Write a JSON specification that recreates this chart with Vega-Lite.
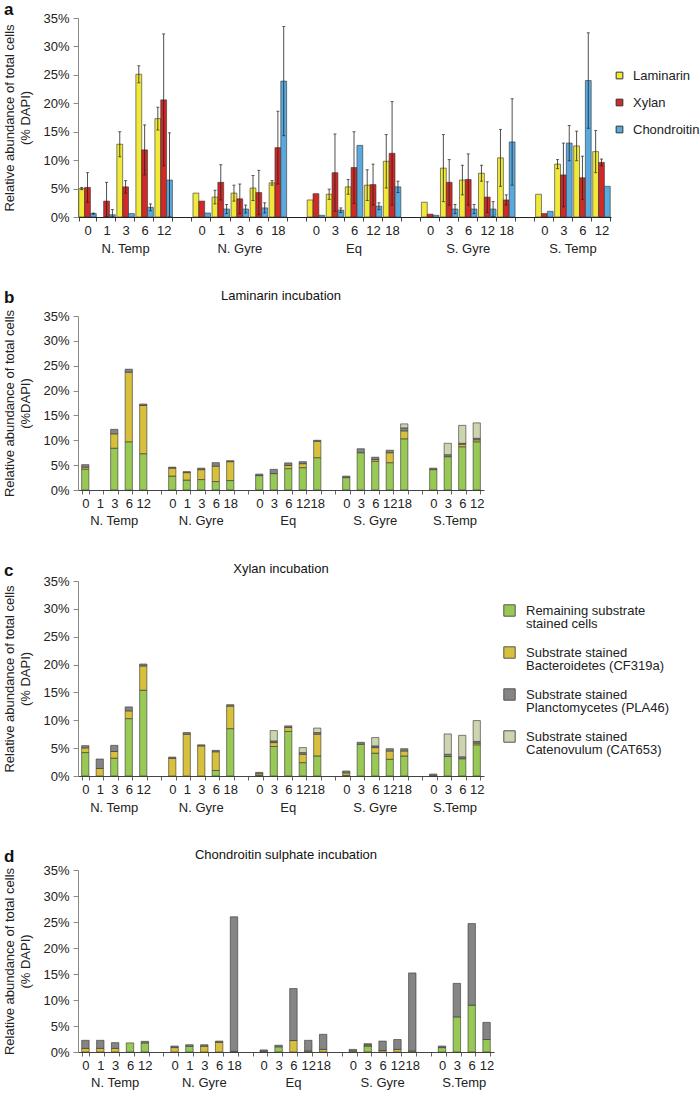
{
  "$schema": "https://vega.github.io/schema/vega-lite/v6.json",
  "padding": {"left": 3, "top": 1, "right": 2, "bottom": 2},
  "spacing": 33,
  "resolve": {"scale": {"color": "independent"}},
  "datasets": {
    "a": [
      {"key":"NT|0","substrate":"Laminarin","value":5.0,"lo":4.8,"hi":5.2},
      {"key":"NT|0","substrate":"Xylan","value":5.2,"lo":2.6,"hi":7.8},
      {"key":"NT|0","substrate":"Chondroitin","value":0.6,"lo":0.5,"hi":0.7},
      {"key":"NT|1","substrate":"Xylan","value":2.8,"lo":0,"hi":6.1},
      {"key":"NT|1","substrate":"Chondroitin","value":0.4,"lo":0,"hi":1.3},
      {"key":"NT|3","substrate":"Laminarin","value":12.8,"lo":10.6,"hi":15.0},
      {"key":"NT|3","substrate":"Xylan","value":5.3,"lo":4.2,"hi":6.4},
      {"key":"NT|3","substrate":"Chondroitin","value":0.6,"lo":null,"hi":null},
      {"key":"NT|6","substrate":"Laminarin","value":25.1,"lo":23.6,"hi":26.6},
      {"key":"NT|6","substrate":"Xylan","value":11.8,"lo":7.4,"hi":16.2},
      {"key":"NT|6","substrate":"Chondroitin","value":1.7,"lo":1.1,"hi":2.3},
      {"key":"NT|12","substrate":"Laminarin","value":17.3,"lo":15.3,"hi":19.3},
      {"key":"NT|12","substrate":"Xylan","value":20.6,"lo":9.0,"hi":32.2},
      {"key":"NT|12","substrate":"Chondroitin","value":6.5,"lo":0,"hi":14.8},
      {"key":"NG|0","substrate":"Laminarin","value":4.2,"lo":null,"hi":null},
      {"key":"NG|0","substrate":"Xylan","value":2.8,"lo":null,"hi":null},
      {"key":"NG|0","substrate":"Chondroitin","value":0.7,"lo":null,"hi":null},
      {"key":"NG|1","substrate":"Laminarin","value":3.5,"lo":2.3,"hi":4.7},
      {"key":"NG|1","substrate":"Xylan","value":6.1,"lo":3.0,"hi":9.2},
      {"key":"NG|1","substrate":"Chondroitin","value":1.4,"lo":0.6,"hi":2.2},
      {"key":"NG|3","substrate":"Laminarin","value":4.2,"lo":2.8,"hi":5.6},
      {"key":"NG|3","substrate":"Xylan","value":3.2,"lo":0.6,"hi":5.8},
      {"key":"NG|3","substrate":"Chondroitin","value":1.4,"lo":0.7,"hi":2.1},
      {"key":"NG|6","substrate":"Laminarin","value":5.1,"lo":2.9,"hi":7.3},
      {"key":"NG|6","substrate":"Xylan","value":4.3,"lo":0.4,"hi":8.2},
      {"key":"NG|6","substrate":"Chondroitin","value":1.6,"lo":0.7,"hi":2.5},
      {"key":"NG|18","substrate":"Laminarin","value":6.0,"lo":5.6,"hi":6.4},
      {"key":"NG|18","substrate":"Xylan","value":12.2,"lo":5.8,"hi":18.6},
      {"key":"NG|18","substrate":"Chondroitin","value":23.9,"lo":14.3,"hi":33.5},
      {"key":"EQ|0","substrate":"Laminarin","value":3.0,"lo":null,"hi":null},
      {"key":"EQ|0","substrate":"Xylan","value":4.1,"lo":null,"hi":null},
      {"key":"EQ|0","substrate":"Chondroitin","value":0.3,"lo":null,"hi":null},
      {"key":"EQ|3","substrate":"Laminarin","value":4.0,"lo":3.1,"hi":4.9},
      {"key":"EQ|3","substrate":"Xylan","value":7.8,"lo":1.0,"hi":14.6},
      {"key":"EQ|3","substrate":"Chondroitin","value":1.2,"lo":0.8,"hi":1.6},
      {"key":"EQ|6","substrate":"Laminarin","value":5.3,"lo":4.0,"hi":6.6},
      {"key":"EQ|6","substrate":"Xylan","value":8.7,"lo":2.4,"hi":15.0},
      {"key":"EQ|6","substrate":"Chondroitin","value":12.6,"lo":null,"hi":null},
      {"key":"EQ|12","substrate":"Laminarin","value":5.6,"lo":2.9,"hi":8.3},
      {"key":"EQ|12","substrate":"Xylan","value":5.7,"lo":2.1,"hi":9.3},
      {"key":"EQ|12","substrate":"Chondroitin","value":1.9,"lo":1.3,"hi":2.5},
      {"key":"EQ|18","substrate":"Laminarin","value":9.8,"lo":5.1,"hi":14.5},
      {"key":"EQ|18","substrate":"Xylan","value":11.2,"lo":2.1,"hi":20.3},
      {"key":"EQ|18","substrate":"Chondroitin","value":5.3,"lo":4.3,"hi":6.3},
      {"key":"SG|0","substrate":"Laminarin","value":2.6,"lo":null,"hi":null},
      {"key":"SG|0","substrate":"Xylan","value":0.5,"lo":null,"hi":null},
      {"key":"SG|0","substrate":"Chondroitin","value":0.3,"lo":null,"hi":null},
      {"key":"SG|3","substrate":"Laminarin","value":8.6,"lo":2.7,"hi":14.5},
      {"key":"SG|3","substrate":"Xylan","value":6.1,"lo":2.1,"hi":10.1},
      {"key":"SG|3","substrate":"Chondroitin","value":1.4,"lo":0.6,"hi":2.2},
      {"key":"SG|6","substrate":"Laminarin","value":6.5,"lo":3.9,"hi":9.1},
      {"key":"SG|6","substrate":"Xylan","value":6.6,"lo":2.1,"hi":11.1},
      {"key":"SG|6","substrate":"Chondroitin","value":1.4,"lo":0.6,"hi":2.2},
      {"key":"SG|12","substrate":"Laminarin","value":7.7,"lo":6.3,"hi":9.1},
      {"key":"SG|12","substrate":"Xylan","value":3.5,"lo":0.8,"hi":6.2},
      {"key":"SG|12","substrate":"Chondroitin","value":1.4,"lo":0.1,"hi":2.7},
      {"key":"SG|18","substrate":"Laminarin","value":10.4,"lo":5.4,"hi":15.4},
      {"key":"SG|18","substrate":"Xylan","value":3.0,"lo":2.1,"hi":3.9},
      {"key":"SG|18","substrate":"Chondroitin","value":13.2,"lo":5.6,"hi":20.8},
      {"key":"ST|0","substrate":"Laminarin","value":4.0,"lo":null,"hi":null},
      {"key":"ST|0","substrate":"Xylan","value":0.6,"lo":null,"hi":null},
      {"key":"ST|0","substrate":"Chondroitin","value":1.0,"lo":null,"hi":null},
      {"key":"ST|3","substrate":"Laminarin","value":9.3,"lo":8.5,"hi":10.1},
      {"key":"ST|3","substrate":"Xylan","value":7.4,"lo":1.8,"hi":13.0},
      {"key":"ST|3","substrate":"Chondroitin","value":13.0,"lo":9.9,"hi":16.1},
      {"key":"ST|6","substrate":"Laminarin","value":12.5,"lo":9.9,"hi":15.1},
      {"key":"ST|6","substrate":"Xylan","value":6.9,"lo":3.1,"hi":10.7},
      {"key":"ST|6","substrate":"Chondroitin","value":24.0,"lo":15.6,"hi":32.4},
      {"key":"ST|12","substrate":"Laminarin","value":11.5,"lo":7.8,"hi":15.2},
      {"key":"ST|12","substrate":"Xylan","value":9.6,"lo":9.0,"hi":10.2},
      {"key":"ST|12","substrate":"Chondroitin","value":5.4,"lo":null,"hi":null}
    ],
    "b": [
      {"key":"NT|0","probe":"Remaining","value":4.2},{"key":"NT|0","probe":"CF319a","value":0.4},{"key":"NT|0","probe":"PLA46","value":0.5},
      {"key":"NT|3","probe":"Remaining","value":8.4},{"key":"NT|3","probe":"CF319a","value":2.9},{"key":"NT|3","probe":"PLA46","value":0.9},
      {"key":"NT|6","probe":"Remaining","value":9.7},{"key":"NT|6","probe":"CF319a","value":14.0},{"key":"NT|6","probe":"PLA46","value":0.6},
      {"key":"NT|12","probe":"Remaining","value":7.3},{"key":"NT|12","probe":"CF319a","value":9.7},{"key":"NT|12","probe":"PLA46","value":0.3},
      {"key":"NG|0","probe":"Remaining","value":2.8},{"key":"NG|0","probe":"CF319a","value":1.6},{"key":"NG|0","probe":"PLA46","value":0.2},
      {"key":"NG|1","probe":"Remaining","value":2.0},{"key":"NG|1","probe":"CF319a","value":1.5},{"key":"NG|1","probe":"PLA46","value":0.2},
      {"key":"NG|3","probe":"Remaining","value":2.1},{"key":"NG|3","probe":"CF319a","value":2.0},{"key":"NG|3","probe":"PLA46","value":0.3},
      {"key":"NG|6","probe":"Remaining","value":1.7},{"key":"NG|6","probe":"CF319a","value":3.1},{"key":"NG|6","probe":"PLA46","value":0.7},
      {"key":"NG|18","probe":"Remaining","value":1.9},{"key":"NG|18","probe":"CF319a","value":3.8},{"key":"NG|18","probe":"PLA46","value":0.2},
      {"key":"EQ|0","probe":"Remaining","value":2.9},{"key":"EQ|0","probe":"PLA46","value":0.3},
      {"key":"EQ|3","probe":"Remaining","value":3.3},{"key":"EQ|3","probe":"PLA46","value":0.85},
      {"key":"EQ|6","probe":"Remaining","value":4.3},{"key":"EQ|6","probe":"CF319a","value":0.65},{"key":"EQ|6","probe":"PLA46","value":0.5},
      {"key":"EQ|12","probe":"Remaining","value":4.5},{"key":"EQ|12","probe":"CF319a","value":0.8},{"key":"EQ|12","probe":"PLA46","value":0.4},
      {"key":"EQ|18","probe":"Remaining","value":6.5},{"key":"EQ|18","probe":"CF319a","value":3.3},{"key":"EQ|18","probe":"PLA46","value":0.2},
      {"key":"SG|0","probe":"Remaining","value":2.5},{"key":"SG|0","probe":"PLA46","value":0.3},
      {"key":"SG|3","probe":"Remaining","value":7.5},{"key":"SG|3","probe":"PLA46","value":0.8},
      {"key":"SG|6","probe":"Remaining","value":5.8},{"key":"SG|6","probe":"CF319a","value":0.35},{"key":"SG|6","probe":"PLA46","value":0.45},
      {"key":"SG|12","probe":"Remaining","value":5.5},{"key":"SG|12","probe":"CF319a","value":2.0},{"key":"SG|12","probe":"PLA46","value":0.5},
      {"key":"SG|18","probe":"Remaining","value":10.3},{"key":"SG|18","probe":"CF319a","value":1.6},{"key":"SG|18","probe":"PLA46","value":0.6},{"key":"SG|18","probe":"CAT653","value":0.8},
      {"key":"ST|0","probe":"Remaining","value":4.1},{"key":"ST|0","probe":"PLA46","value":0.3},
      {"key":"ST|3","probe":"Remaining","value":6.7},{"key":"ST|3","probe":"PLA46","value":0.4},{"key":"ST|3","probe":"CAT653","value":2.3},
      {"key":"ST|6","probe":"Remaining","value":8.7},{"key":"ST|6","probe":"CF319a","value":0.5},{"key":"ST|6","probe":"PLA46","value":0.2},{"key":"ST|6","probe":"CAT653","value":3.6},
      {"key":"ST|12","probe":"Remaining","value":9.7},{"key":"ST|12","probe":"CF319a","value":0.4},{"key":"ST|12","probe":"PLA46","value":0.3},{"key":"ST|12","probe":"CAT653","value":3.1}
    ],
    "c": [
      {"key":"NT|0","probe":"Remaining","value":4.2},{"key":"NT|0","probe":"CF319a","value":0.85},{"key":"NT|0","probe":"PLA46","value":0.4},
      {"key":"NT|1","probe":"CF319a","value":1.35},{"key":"NT|1","probe":"PLA46","value":1.7},
      {"key":"NT|3","probe":"Remaining","value":3.2},{"key":"NT|3","probe":"CF319a","value":1.2},{"key":"NT|3","probe":"PLA46","value":1.1},
      {"key":"NT|6","probe":"Remaining","value":10.3},{"key":"NT|6","probe":"CF319a","value":1.4},{"key":"NT|6","probe":"PLA46","value":0.7},
      {"key":"NT|12","probe":"Remaining","value":15.4},{"key":"NT|12","probe":"CF319a","value":4.35},{"key":"NT|12","probe":"PLA46","value":0.35},
      {"key":"NG|0","probe":"CF319a","value":3.15},{"key":"NG|0","probe":"PLA46","value":0.25},
      {"key":"NG|1","probe":"CF319a","value":7.5},{"key":"NG|1","probe":"PLA46","value":0.3},
      {"key":"NG|3","probe":"CF319a","value":5.4},{"key":"NG|3","probe":"PLA46","value":0.2},
      {"key":"NG|6","probe":"Remaining","value":1.0},{"key":"NG|6","probe":"CF319a","value":3.35},{"key":"NG|6","probe":"PLA46","value":0.25},
      {"key":"NG|18","probe":"Remaining","value":8.5},{"key":"NG|18","probe":"CF319a","value":4.05},{"key":"NG|18","probe":"PLA46","value":0.25},
      {"key":"EQ|0","probe":"Remaining","value":0.1},{"key":"EQ|0","probe":"CF319a","value":0.3},{"key":"EQ|0","probe":"PLA46","value":0.25},
      {"key":"EQ|3","probe":"Remaining","value":5.3},{"key":"EQ|3","probe":"CF319a","value":0.7},{"key":"EQ|3","probe":"PLA46","value":0.3},{"key":"EQ|3","probe":"CAT653","value":1.85},
      {"key":"EQ|6","probe":"Remaining","value":8.0},{"key":"EQ|6","probe":"CF319a","value":0.7},{"key":"EQ|6","probe":"PLA46","value":0.3},
      {"key":"EQ|12","probe":"Remaining","value":2.4},{"key":"EQ|12","probe":"CF319a","value":1.5},{"key":"EQ|12","probe":"PLA46","value":0.3},{"key":"EQ|12","probe":"CAT653","value":0.9},
      {"key":"EQ|18","probe":"Remaining","value":3.6},{"key":"EQ|18","probe":"CF319a","value":3.9},{"key":"EQ|18","probe":"PLA46","value":0.3},{"key":"EQ|18","probe":"CAT653","value":0.8},
      {"key":"SG|0","probe":"Remaining","value":0.1},{"key":"SG|0","probe":"CF319a","value":0.45},{"key":"SG|0","probe":"PLA46","value":0.35},
      {"key":"SG|3","probe":"Remaining","value":5.7},{"key":"SG|3","probe":"PLA46","value":0.35},
      {"key":"SG|6","probe":"Remaining","value":4.1},{"key":"SG|6","probe":"CF319a","value":1.0},{"key":"SG|6","probe":"PLA46","value":0.3},{"key":"SG|6","probe":"CAT653","value":1.5},
      {"key":"SG|12","probe":"Remaining","value":3.0},{"key":"SG|12","probe":"CF319a","value":1.5},{"key":"SG|12","probe":"PLA46","value":0.4},
      {"key":"SG|18","probe":"Remaining","value":3.6},{"key":"SG|18","probe":"CF319a","value":0.9},{"key":"SG|18","probe":"PLA46","value":0.4},
      {"key":"ST|0","probe":"Remaining","value":0.05},{"key":"ST|0","probe":"PLA46","value":0.3},
      {"key":"ST|3","probe":"Remaining","value":3.5},{"key":"ST|3","probe":"PLA46","value":0.4},{"key":"ST|3","probe":"CAT653","value":3.65},
      {"key":"ST|6","probe":"Remaining","value":3.1},{"key":"ST|6","probe":"PLA46","value":0.35},{"key":"ST|6","probe":"CAT653","value":3.85},
      {"key":"ST|12","probe":"Remaining","value":5.6},{"key":"ST|12","probe":"CF319a","value":0.3},{"key":"ST|12","probe":"PLA46","value":0.3},{"key":"ST|12","probe":"CAT653","value":3.75}
    ],
    "d": [
      {"key":"NT|0","probe":"CF319a","value":0.7},{"key":"NT|0","probe":"PLA46","value":1.55},
      {"key":"NT|1","probe":"CF319a","value":0.7},{"key":"NT|1","probe":"PLA46","value":1.55},
      {"key":"NT|3","probe":"CF319a","value":0.7},{"key":"NT|3","probe":"PLA46","value":1.1},
      {"key":"NT|6","probe":"Remaining","value":1.75},
      {"key":"NT|12","probe":"Remaining","value":1.75},{"key":"NT|12","probe":"PLA46","value":0.3},
      {"key":"NG|0","probe":"CF319a","value":0.85},{"key":"NG|0","probe":"PLA46","value":0.3},
      {"key":"NG|1","probe":"Remaining","value":1.1},{"key":"NG|1","probe":"PLA46","value":0.3},
      {"key":"NG|3","probe":"CF319a","value":1.1},{"key":"NG|3","probe":"PLA46","value":0.3},
      {"key":"NG|6","probe":"CF319a","value":1.85},{"key":"NG|6","probe":"PLA46","value":0.25},
      {"key":"NG|18","probe":"CF319a","value":0.1},{"key":"NG|18","probe":"PLA46","value":25.9},
      {"key":"EQ|0","probe":"CF319a","value":0.15},{"key":"EQ|0","probe":"PLA46","value":0.25},
      {"key":"EQ|3","probe":"Remaining","value":1.0},{"key":"EQ|3","probe":"PLA46","value":0.3},
      {"key":"EQ|6","probe":"CF319a","value":2.2},{"key":"EQ|6","probe":"PLA46","value":10.0},
      {"key":"EQ|12","probe":"CF319a","value":0.2},{"key":"EQ|12","probe":"PLA46","value":2.05},
      {"key":"EQ|18","probe":"CF319a","value":0.5},{"key":"EQ|18","probe":"PLA46","value":2.9},
      {"key":"SG|0","probe":"CF319a","value":0.2},{"key":"SG|0","probe":"PLA46","value":0.3},
      {"key":"SG|3","probe":"Remaining","value":1.15},{"key":"SG|3","probe":"CF319a","value":0.2},{"key":"SG|3","probe":"PLA46","value":0.25},
      {"key":"SG|6","probe":"CF319a","value":0.3},{"key":"SG|6","probe":"PLA46","value":1.8},
      {"key":"SG|12","probe":"CF319a","value":0.5},{"key":"SG|12","probe":"PLA46","value":1.9},
      {"key":"SG|18","probe":"CF319a","value":0.2},{"key":"SG|18","probe":"PLA46","value":15.0},
      {"key":"ST|0","probe":"Remaining","value":0.85},{"key":"ST|0","probe":"PLA46","value":0.3},
      {"key":"ST|3","probe":"Remaining","value":6.75},{"key":"ST|3","probe":"PLA46","value":6.45},
      {"key":"ST|6","probe":"Remaining","value":9.0},{"key":"ST|6","probe":"PLA46","value":15.7},
      {"key":"ST|12","probe":"Remaining","value":2.4},{"key":"ST|12","probe":"PLA46","value":3.3}
    ],
    "groupsA": [
      {"key":"NT|3","label":"N. Temp"},{"key":"NG|3","label":"N. Gyre"},{"key":"EQ|6","label":"Eq"},{"key":"SG|6","label":"S. Gyre"},{"key":"ST|3","label":"S. Temp"}
    ],
    "groupsB": [
      {"key":"NT|3","label":"N. Temp"},{"key":"NG|3","label":"N. Gyre"},{"key":"EQ|6","label":"Eq"},{"key":"SG|6","label":"S. Gyre"},{"key":"ST|3","label":"S.Temp"}
    ]
  },
  "vconcat": [
    {
      "title": {"text": "a", "anchor": "start", "frame": "bounds", "fontSize": 17, "fontWeight": "bold", "offset": -7},
      "vconcat": [
        {
          "width": 533, "height": 199,
          "data": {"name": "a"},
          "encoding": {
            "x": {"field": "key", "type": "nominal",
              "scale": {"domain": ["NT|0","NT|1","NT|3","NT|6","NT|12","gap1|","NG|0","NG|1","NG|3","NG|6","NG|18","gap2|","EQ|0","EQ|3","EQ|6","EQ|12","EQ|18","gap3|","SG|0","SG|3","SG|6","SG|12","SG|18","gap4|","ST|0","ST|3","ST|6","ST|12"], "paddingInner": 0.08, "paddingOuter": 0.04},
              "axis": {"title": null, "labelExpr": "split(datum.value, '|')[1]", "labelAngle": 0, "tickBand": "extent", "tickSize": 4, "labelPadding": 3, "domainColor": "#222", "tickColor": "#444"}}
          },
          "layer": [
            {
              "mark": {"type": "bar", "stroke": "#333", "strokeWidth": 0.6},
              "encoding": {
                "xOffset": {"field": "substrate", "type": "nominal", "scale": {"domain": ["Laminarin","Xylan","Chondroitin"], "paddingInner": 0}},
                "y": {"field": "value", "type": "quantitative", "scale": {"domain": [0, 35], "nice": false},
                  "axis": {"title": ["Relative abundance of total cells", "(% DAPI)"], "values": [0,5,10,15,20,25,30,35], "labelOverlap": false, "labelExpr": "datum.value + '%'", "tickSize": 5, "labelPadding": 4, "domainColor": "#888", "tickColor": "#888", "titlePadding": 10, "titleLineHeight": 16}},
                "color": {"field": "substrate", "type": "nominal",
                  "scale": {"domain": ["Laminarin","Xylan","Chondroitin"], "range": ["#f0e93a","#cf2a27","#5aa9de"]},
                  "legend": {"title": null, "orient": "none", "legendX": 535, "legendY": 51, "symbolType": "square", "symbolSize": 45, "symbolStrokeColor": "#333", "symbolStrokeWidth": 1, "rowPadding": 13, "labelOffset": 7}}
              }
            },
            {
              "transform": [{"filter": "datum.hi != null"}],
              "mark": {"type": "rule", "color": "#222", "strokeWidth": 0.8},
              "encoding": {
                "xOffset": {"field": "substrate", "type": "nominal"},
                "y": {"field": "lo", "type": "quantitative",
                  "axis": {"title": ["Relative abundance of total cells", "(% DAPI)"], "values": [0,5,10,15,20,25,30,35], "labelOverlap": false, "labelExpr": "datum.value + '%'", "tickSize": 5, "labelPadding": 4, "domainColor": "#888", "tickColor": "#888", "titlePadding": 10, "titleLineHeight": 16}},
                "y2": {"field": "hi"}
              }
            },
            {
              "transform": [{"filter": "datum.hi != null"}],
              "mark": {"type": "tick", "color": "#222", "size": 3, "thickness": 1},
              "encoding": {
                "xOffset": {"field": "substrate", "type": "nominal"},
                "y": {"field": "hi", "type": "quantitative",
                  "axis": {"title": ["Relative abundance of total cells", "(% DAPI)"], "values": [0,5,10,15,20,25,30,35], "labelOverlap": false, "labelExpr": "datum.value + '%'", "tickSize": 5, "labelPadding": 4, "domainColor": "#888", "tickColor": "#888", "titlePadding": 10, "titleLineHeight": 16}}
              }
            },
            {
              "transform": [{"filter": "datum.hi != null"}],
              "mark": {"type": "tick", "color": "#222", "size": 3, "thickness": 1},
              "encoding": {
                "xOffset": {"field": "substrate", "type": "nominal"},
                "y": {"field": "lo", "type": "quantitative",
                  "axis": {"title": ["Relative abundance of total cells", "(% DAPI)"], "values": [0,5,10,15,20,25,30,35], "labelOverlap": false, "labelExpr": "datum.value + '%'", "tickSize": 5, "labelPadding": 4, "domainColor": "#888", "tickColor": "#888", "titlePadding": 10, "titleLineHeight": 16}}
              }
            },
            {
              "data": {"name": "groupsA"},
              "transform": [{"filter": "datum.key != 'ST|3'"}],
              "mark": {"type": "text", "fontSize": 13, "baseline": "middle", "color": "#222"},
              "encoding": {
                "y": {"datum": -5.6, "type": "quantitative",
                  "axis": {"title": ["Relative abundance of total cells", "(% DAPI)"], "values": [0,5,10,15,20,25,30,35], "labelOverlap": false, "labelExpr": "datum.value + '%'", "tickSize": 5, "labelPadding": 4, "domainColor": "#888", "tickColor": "#888", "titlePadding": 10, "titleLineHeight": 16}},
                "text": {"field": "label"}
              }
            },
            {
              "data": {"name": "groupsA"},
              "transform": [{"filter": "datum.key == 'ST|3'"}],
              "mark": {"type": "text", "fontSize": 13, "baseline": "middle", "color": "#222"},
              "encoding": {
                "x": {"field": "key", "type": "nominal", "bandPosition": 1.043},
                "y": {"datum": -5.6, "type": "quantitative",
                  "axis": {"title": ["Relative abundance of total cells", "(% DAPI)"], "values": [0,5,10,15,20,25,30,35], "labelOverlap": false, "labelExpr": "datum.value + '%'", "tickSize": 5, "labelPadding": 4, "domainColor": "#888", "tickColor": "#888", "titlePadding": 10, "titleLineHeight": 16}},
                "text": {"field": "label"}
              }
            }
          ]
        }
      ]
    },
    {
      "title": {"text": "b", "anchor": "start", "frame": "bounds", "fontSize": 17, "fontWeight": "bold", "offset": 0, "dy": 17},
      "vconcat": [
        {
          "width": 406, "height": 174,
          "title": {"text": "Laminarin incubation", "anchor": "middle", "frame": "group", "fontSize": 13, "fontWeight": "normal", "offset": 6},
          "data": {"name": "b"},
          "encoding": {
            "x": {"field": "key", "type": "nominal",
              "scale": {"domain": ["NT|0","NT|1","NT|3","NT|6","NT|12","gap1|","NG|0","NG|1","NG|3","NG|6","NG|18","gap2|","EQ|0","EQ|3","EQ|6","EQ|12","EQ|18","gap3|","SG|0","SG|3","SG|6","SG|12","SG|18","gap4|","ST|0","ST|3","ST|6","ST|12"], "paddingInner": 0.5, "paddingOuter": 0.25},
              "axis": {"title": null, "labelExpr": "split(datum.value, '|')[1]", "labelAngle": 0, "tickBand": "extent", "tickSize": 4, "labelPadding": 3, "domainColor": "#444", "tickColor": "#666"}}
          },
          "layer": [
            {
              "transform": [{"calculate": "indexof(['Remaining','CF319a','PLA46','CAT653'], datum.probe)", "as": "stackOrder"}],
              "mark": {"type": "bar", "stroke": "#333", "strokeWidth": 0.6},
              "encoding": {
                "y": {"field": "value", "type": "quantitative", "stack": "zero", "scale": {"domain": [0, 35], "nice": false},
                  "axis": {"title": ["Relative abundance of total cells", "(%DAPI)"], "values": [0,5,10,15,20,25,30,35], "labelOverlap": false, "labelExpr": "datum.value + '%'", "tickSize": 5, "labelPadding": 4, "domainColor": "#888", "tickColor": "#888", "titlePadding": 10, "titleLineHeight": 16}},
                "color": {"field": "probe", "type": "nominal",
                  "scale": {"domain": ["Remaining","CF319a","PLA46","CAT653"], "range": ["#98c955","#d8c03c","#858585","#cdd4b0"]}, "legend": null},
                "order": {"field": "stackOrder", "type": "quantitative"}
              }
            },
            {
              "data": {"name": "groupsB"},
              "transform": [{"filter": "datum.key != 'ST|3'"}],
              "mark": {"type": "text", "fontSize": 13, "baseline": "middle", "color": "#222"},
              "encoding": {
                "y": {"datum": -6.3, "type": "quantitative",
                  "axis": {"title": ["Relative abundance of total cells", "(%DAPI)"], "values": [0,5,10,15,20,25,30,35], "labelOverlap": false, "labelExpr": "datum.value + '%'", "tickSize": 5, "labelPadding": 4, "domainColor": "#888", "tickColor": "#888", "titlePadding": 10, "titleLineHeight": 16}},
                "text": {"field": "label"}
              }
            },
            {
              "data": {"name": "groupsB"},
              "transform": [{"filter": "datum.key == 'ST|3'"}],
              "mark": {"type": "text", "fontSize": 13, "baseline": "middle", "color": "#222"},
              "encoding": {
                "x": {"field": "key", "type": "nominal", "bandPosition": 1.5},
                "y": {"datum": -6.3, "type": "quantitative",
                  "axis": {"title": ["Relative abundance of total cells", "(%DAPI)"], "values": [0,5,10,15,20,25,30,35], "labelOverlap": false, "labelExpr": "datum.value + '%'", "tickSize": 5, "labelPadding": 4, "domainColor": "#888", "tickColor": "#888", "titlePadding": 10, "titleLineHeight": 16}},
                "text": {"field": "label"}
              }
            }
          ]
        }
      ]
    },
    {
      "title": {"text": "c", "anchor": "start", "frame": "bounds", "fontSize": 17, "fontWeight": "bold", "offset": 0, "dy": 17},
      "vconcat": [
        {
          "width": 406, "height": 195,
          "title": {"text": "Xylan incubation", "anchor": "middle", "frame": "group", "fontSize": 13, "fontWeight": "normal", "offset": -1},
          "data": {"name": "c"},
          "encoding": {
            "x": {"field": "key", "type": "nominal",
              "scale": {"domain": ["NT|0","NT|1","NT|3","NT|6","NT|12","gap1|","NG|0","NG|1","NG|3","NG|6","NG|18","gap2|","EQ|0","EQ|3","EQ|6","EQ|12","EQ|18","gap3|","SG|0","SG|3","SG|6","SG|12","SG|18","gap4|","ST|0","ST|3","ST|6","ST|12"], "paddingInner": 0.5, "paddingOuter": 0.25},
              "axis": {"title": null, "labelExpr": "split(datum.value, '|')[1]", "labelAngle": 0, "tickBand": "extent", "tickSize": 4, "labelPadding": 3, "domainColor": "#444", "tickColor": "#666"}}
          },
          "layer": [
            {
              "transform": [{"calculate": "indexof(['Remaining','CF319a','PLA46','CAT653'], datum.probe)", "as": "stackOrder"}],
              "mark": {"type": "bar", "stroke": "#333", "strokeWidth": 0.6},
              "encoding": {
                "y": {"field": "value", "type": "quantitative", "stack": "zero", "scale": {"domain": [0, 35], "nice": false},
                  "axis": {"title": ["Relative abundance of total cells", "(% DAPI)"], "values": [0,5,10,15,20,25,30,35], "labelOverlap": false, "labelExpr": "datum.value + '%'", "tickSize": 5, "labelPadding": 4, "domainColor": "#888", "tickColor": "#888", "titlePadding": 10, "titleLineHeight": 16}},
                "color": {"field": "probe", "type": "nominal",
                  "scale": {"domain": ["Remaining","CF319a","PLA46","CAT653"], "range": ["#98c955","#d8c03c","#858585","#cdd4b0"]},
                  "legend": {"title": null, "orient": "none", "legendX": 425, "legendY": 23, "symbolType": "square", "symbolSize": 130, "symbolStrokeColor": "#555", "symbolStrokeWidth": 1, "rowPadding": 13, "labelOffset": 10, "labelLimit": 300,
                    "labelExpr": "datum.label == 'Remaining' ? ['Remaining substrate', 'stained cells'] : datum.label == 'CF319a' ? ['Substrate stained', 'Bacteroidetes (CF319a)'] : datum.label == 'PLA46' ? ['Substrate stained', 'Planctomycetes (PLA46)'] : ['Substrate stained', 'Catenovulum (CAT653)']"}},
                "order": {"field": "stackOrder", "type": "quantitative"}
              }
            },
            {
              "data": {"name": "groupsB"},
              "transform": [{"filter": "datum.key != 'ST|3'"}],
              "mark": {"type": "text", "fontSize": 13, "baseline": "middle", "color": "#222"},
              "encoding": {
                "y": {"datum": -5.7, "type": "quantitative",
                  "axis": {"title": ["Relative abundance of total cells", "(% DAPI)"], "values": [0,5,10,15,20,25,30,35], "labelOverlap": false, "labelExpr": "datum.value + '%'", "tickSize": 5, "labelPadding": 4, "domainColor": "#888", "tickColor": "#888", "titlePadding": 10, "titleLineHeight": 16}},
                "text": {"field": "label"}
              }
            },
            {
              "data": {"name": "groupsB"},
              "transform": [{"filter": "datum.key == 'ST|3'"}],
              "mark": {"type": "text", "fontSize": 13, "baseline": "middle", "color": "#222"},
              "encoding": {
                "x": {"field": "key", "type": "nominal", "bandPosition": 1.5},
                "y": {"datum": -5.7, "type": "quantitative",
                  "axis": {"title": ["Relative abundance of total cells", "(% DAPI)"], "values": [0,5,10,15,20,25,30,35], "labelOverlap": false, "labelExpr": "datum.value + '%'", "tickSize": 5, "labelPadding": 4, "domainColor": "#888", "tickColor": "#888", "titlePadding": 10, "titleLineHeight": 16}},
                "text": {"field": "label"}
              }
            }
          ]
        }
      ]
    },
    {
      "title": {"text": "d", "anchor": "start", "frame": "bounds", "fontSize": 17, "fontWeight": "bold", "offset": 0, "dy": 17},
      "vconcat": [
        {
          "width": 416, "height": 182,
          "title": {"text": "Chondroitin sulphate incubation", "anchor": "middle", "frame": "group", "fontSize": 13, "fontWeight": "normal", "offset": 2},
          "data": {"name": "d"},
          "encoding": {
            "x": {"field": "key", "type": "nominal",
              "scale": {"domain": ["NT|0","NT|1","NT|3","NT|6","NT|12","gap1|","NG|0","NG|1","NG|3","NG|6","NG|18","gap2|","EQ|0","EQ|3","EQ|6","EQ|12","EQ|18","gap3|","SG|0","SG|3","SG|6","SG|12","SG|18","gap4|","ST|0","ST|3","ST|6","ST|12"], "paddingInner": 0.5, "paddingOuter": 0.25},
              "axis": {"title": null, "labelExpr": "split(datum.value, '|')[1]", "labelAngle": 0, "tickBand": "extent", "tickSize": 4, "labelPadding": 3, "domainColor": "#444", "tickColor": "#666"}}
          },
          "layer": [
            {
              "transform": [{"calculate": "indexof(['Remaining','CF319a','PLA46','CAT653'], datum.probe)", "as": "stackOrder"}],
              "mark": {"type": "bar", "stroke": "#333", "strokeWidth": 0.6},
              "encoding": {
                "y": {"field": "value", "type": "quantitative", "stack": "zero", "scale": {"domain": [0, 35], "nice": false},
                  "axis": {"title": ["Relative abundance of total cells", "(% DAPI)"], "values": [0,5,10,15,20,25,30,35], "labelOverlap": false, "labelExpr": "datum.value + '%'", "tickSize": 5, "labelPadding": 4, "domainColor": "#888", "tickColor": "#888", "titlePadding": 10, "titleLineHeight": 16}},
                "color": {"field": "probe", "type": "nominal",
                  "scale": {"domain": ["Remaining","CF319a","PLA46","CAT653"], "range": ["#98c955","#d8c03c","#858585","#cdd4b0"]}, "legend": null},
                "order": {"field": "stackOrder", "type": "quantitative"}
              }
            },
            {
              "data": {"name": "groupsB"},
              "transform": [{"filter": "datum.key != 'ST|3'"}],
              "mark": {"type": "text", "fontSize": 13, "baseline": "middle", "color": "#222"},
              "encoding": {
                "y": {"datum": -5.9, "type": "quantitative",
                  "axis": {"title": ["Relative abundance of total cells", "(% DAPI)"], "values": [0,5,10,15,20,25,30,35], "labelOverlap": false, "labelExpr": "datum.value + '%'", "tickSize": 5, "labelPadding": 4, "domainColor": "#888", "tickColor": "#888", "titlePadding": 10, "titleLineHeight": 16}},
                "text": {"field": "label"}
              }
            },
            {
              "data": {"name": "groupsB"},
              "transform": [{"filter": "datum.key == 'ST|3'"}],
              "mark": {"type": "text", "fontSize": 13, "baseline": "middle", "color": "#222"},
              "encoding": {
                "x": {"field": "key", "type": "nominal", "bandPosition": 1.5},
                "y": {"datum": -5.9, "type": "quantitative",
                  "axis": {"title": ["Relative abundance of total cells", "(% DAPI)"], "values": [0,5,10,15,20,25,30,35], "labelOverlap": false, "labelExpr": "datum.value + '%'", "tickSize": 5, "labelPadding": 4, "domainColor": "#888", "tickColor": "#888", "titlePadding": 10, "titleLineHeight": 16}},
                "text": {"field": "label"}
              }
            }
          ]
        }
      ]
    }
  ],
  "config": {
    "font": "Liberation Sans",
    "view": {"stroke": null},
    "axis": {"labelFont": "Liberation Sans", "titleFont": "Liberation Sans", "labelColor": "#222", "titleColor": "#222", "grid": false, "labelFontSize": 13, "titleFontSize": 13, "titleFontWeight": "normal"},
    "legend": {"labelFont": "Liberation Sans", "labelColor": "#222", "labelFontSize": 13},
    "style": {"guide-label": {"lineHeight": 13}},
    "title": {"font": "Liberation Sans", "color": "#111"},
    "text": {"font": "Liberation Sans"}
  }
}
